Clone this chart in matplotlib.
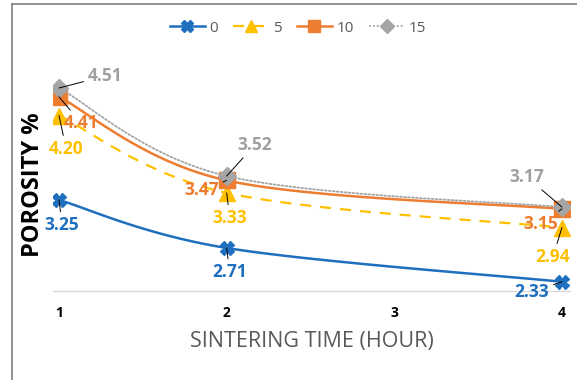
import numpy as np
import matplotlib
matplotlib.use("Agg")
import matplotlib.pyplot as plt
from matplotlib.lines import Line2D

# ---- data ----
hours = [1, 2, 4]
series_names = ["0", "5", "10", "15"]
s0 = [3.25, 2.71, 2.33]
s5 = [4.20, 3.33, 2.94]
s10 = [4.41, 3.47, 3.15]
s15 = [4.51, 3.52, 3.17]
x_ticks = [1, 2, 3, 4]
x_label = "SINTERING TIME (HOUR)"
y_label = "POROSITY %"

colors = ["#1F6FBF", "#FFC000", "#ED7D31", "#A5A5A5"]
label_colors = ["#1F6FBF", "#FFC000", "#ED7D31", "#A0A0A0"]
styles = ["-", (0, (5, 4)), "-", (0, (1, 1.2))]
lws = [1.8, 1.6, 1.8, 1.3]
markers = ["X", "^", "s", "D"]
msizes = [10, 11, 11, 9.5]

# label offsets in pixels (dx right, dy down) from marker
offsets = [
    [(3, 25), (3, 24), (-30, 10)],
    [(7, 33), (3, 25), (-9, 29)],
    [(22, 26), (-25, 10), (-21, 15)],
    [(46, -12), (28, -31), (-35, -30)],
]

def smooth(xs, ys, n=60):
    P = np.column_stack([xs, ys]).astype(float)
    out = []
    m = len(P)
    for i in range(m - 1):
        p0 = P[i - 1] if i > 0 else P[i]
        p1 = P[i]
        p2 = P[i + 1]
        p3 = P[i + 2] if i + 2 < m else P[i + 1]
        c1 = p1 + (p2 - p0) / 6.0
        c2 = p2 - (p3 - p1) / 6.0
        t = np.linspace(0, 1, n)[:, None]
        seg = ((1 - t) ** 3) * p1 + 3 * ((1 - t) ** 2) * t * c1 + 3 * (1 - t) * t ** 2 * c2 + t ** 3 * p2
        out.append(seg if i == 0 else seg[1:])
    seg = np.vstack(out)
    return seg[:, 0], seg[:, 1]

fig = plt.figure(figsize=(5.77, 3.80), dpi=100)
ax = fig.add_axes([53 / 577, 1 - 291 / 380, (570 - 53) / 577, (291 - 45) / 380])

data = [s0, s5, s10, s15]
handles = []
for k, ys in enumerate(data):
    sx, sy = smooth(hours, ys)
    ax.plot(sx, sy, color=colors[k], ls=styles[k], lw=lws[k], zorder=2 + k,
            solid_capstyle="butt", dash_capstyle="round" if k == 3 else "butt")
    ax.plot(hours, ys, ls="none", marker=markers[k], ms=msizes[k], color=colors[k],
            mec=colors[k], zorder=2.5 + k)
    handles.append(Line2D([0], [0], color=colors[k], ls=styles[k], lw=lws[k],
                          marker=markers[k], ms=msizes[k] * 0.8, mec=colors[k]))
    for j, (xv, yv) in enumerate(zip(hours, ys)):
        dx, dy = offsets[k][j]
        ax.annotate(f"{yv:.2f}", xy=(xv, yv), xytext=(dx * 0.72, -dy * 0.72),
                    textcoords="offset points", ha="center", va="center",
                    fontsize=12.5, fontweight="bold", color=label_colors[k],
                    family="Open Sans", zorder=20,
                    arrowprops=dict(arrowstyle="-", color="black", lw=0.7,
                                    shrinkA=1, shrinkB=0))

ax.set_xlim(0.964, 4.048)
ax.set_ylim(2.226, 4.994)
ax.set_xticks(x_ticks)
ax.set_xticklabels([str(v) for v in x_ticks], fontsize=10, fontweight="bold",
                   family="Open Sans")
ax.tick_params(axis="x", length=0, pad=11)
ax.set_yticks([])
for sp in ["left", "right", "top"]:
    ax.spines[sp].set_visible(False)
ax.spines["bottom"].set_color("#D9D9D9")
ax.spines["bottom"].set_linewidth(1)
ax.patch.set_alpha(0)

ax.set_xlabel(x_label, fontsize=15.5, color="#595959", family="Open Sans", labelpad=8)
fig.text(33 / 577, 1 - 185 / 380, y_label, rotation=90, ha="center", va="center",
         fontsize=17, fontweight="bold", color="black", family="Open Sans")

fig.legend(handles, series_names, loc="center", bbox_to_anchor=(298 / 577, 1 - 28 / 380),
           ncol=4, frameon=False, labelcolor="#595959",
           handlelength=2.3, columnspacing=1.0, handletextpad=0.3,
           prop={"family": "Open Sans", "size": 11})

# chart border lines (left and top)
fig.add_artist(Line2D([12 / 577, 12 / 577], [0, 1 - 4 / 380], color="#808080", lw=1.2,
                      transform=fig.transFigure))
fig.add_artist(Line2D([12 / 577, 1], [1 - 4 / 380, 1 - 4 / 380], color="#808080", lw=1.2,
                      transform=fig.transFigure))

fig.savefig("out.png", dpi=100)
